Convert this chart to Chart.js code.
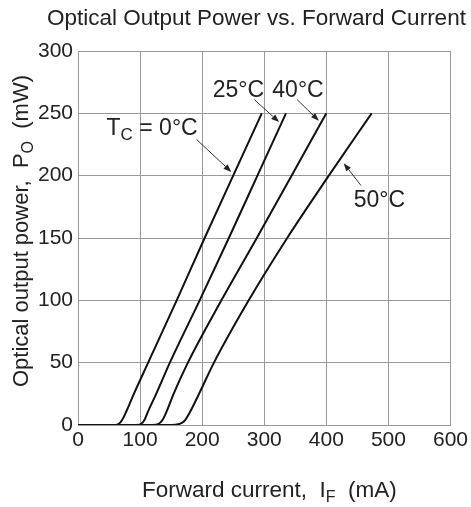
<!DOCTYPE html>
<html>
<head>
<meta charset="utf-8">
<script src="https://cdn.jsdelivr.net/npm/chart.js@4"></script>
<style>
html,body{margin:0;padding:0;background:#fff;}
#wrap{width:471px;height:507px;position:relative;}
</style>
</head>
<body>
<div id="wrap"><canvas id="c" width="471" height="507"></canvas></div>
<script>
// ---- Data ----
const xTicks = [0, 100, 200, 300, 400, 500, 600];   // Forward current (mA)
const yTicks = [0, 50, 100, 150, 200, 250, 300];    // Optical output power (mW)

const tc0I  = [0, 60, 66, 71, 77, 90, 113, 159, 204, 250, 296];
const tc0P  = [0, 0, 1, 4, 10, 25, 50, 100, 150, 200, 250];
const tc25I = [0, 95, 102, 107, 112, 126, 148, 196, 243, 289, 335];
const tc25P = [0, 0, 1, 4, 10, 25, 50, 100, 150, 200, 250];
const tc40I = [0, 120, 130, 136, 142, 154, 177, 231, 288, 344, 400];
const tc40P = [0, 0, 1, 4, 10, 25, 50, 100, 150, 200, 250];
const tc50I = [0, 150, 163, 171, 180, 195, 219, 275, 337, 404, 473];
const tc50P = [0, 0, 0.8, 3, 10, 25, 50, 100, 150, 200, 250];

// Annotation labels, anchored in data units
const labels = [
  {parts:[{t:'T'},{t:'C',sub:true},{t:' = 0\u00B0C'}], x:46,  y:233, arrow:[191,229,247,203]},
  {parts:[{t:'25\u00B0C'}], x:217, y:263, arrow:[284,261,324,243]},
  {parts:[{t:'40\u00B0C'}], x:313, y:263, arrow:[353,261,388,244]},
  {parts:[{t:'50\u00B0C'}], x:444, y:175, arrow:[456,192,428,210]}
];

const pts = (xs, ys) => xs.map((v, i) => ({x: v, y: ys[i]}));

const FONT = '"Liberation Sans", Arial, Helvetica, sans-serif';
const TXT = '#222';

function drawRich(ctx, parts, x, y, size){
  let cx = x;
  ctx.textBaseline = 'alphabetic';
  ctx.textAlign = 'left';
  for (const p of parts){
    const s = p.sub ? Math.round(size*0.72) : size;
    ctx.font = s + 'px ' + FONT;
    ctx.fillText(p.t, cx, p.sub ? y + size*0.22 : y);
    cx += ctx.measureText(p.t).width;
  }
}
function arrow(ctx, x1, y1, x2, y2){
  ctx.save();
  ctx.strokeStyle = '#333';
  ctx.fillStyle = '#222';
  ctx.lineWidth = 1;
  const a = Math.atan2(y2 - y1, x2 - x1);
  const L = 8, W = 3;
  const bx = x2 - L*Math.cos(a), by = y2 - L*Math.sin(a);
  ctx.beginPath(); ctx.moveTo(x1, y1); ctx.lineTo(bx, by); ctx.stroke();
  ctx.beginPath();
  ctx.moveTo(x2, y2);
  ctx.lineTo(bx + W*Math.sin(a), by - W*Math.cos(a));
  ctx.lineTo(bx - W*Math.sin(a), by + W*Math.cos(a));
  ctx.closePath(); ctx.fill();
  ctx.restore();
}

const textPlugin = {
  id: 'texts',
  afterDraw(chart){
    const {ctx, scales:{x, y}} = chart;
    ctx.save();
    ctx.fillStyle = TXT;
    // main title
    drawRich(ctx, [{t:'Optical Output Power vs. Forward Current'}], 47, 25, 22.5);
    // x axis title
    drawRich(ctx, [{t:'Forward current,  I'},{t:'F',sub:true},{t:'  (mA)'}], 142, 497, 22.5);
    // y axis title (rotated)
    ctx.save();
    ctx.translate(28, 387);
    ctx.rotate(-Math.PI/2);
    drawRich(ctx, [{t:'Optical output power,  P'},{t:'O',sub:true},{t:'  (mW)'}], 0, 0, 22);
    ctx.restore();
    // annotations
    for (const l of labels){
      ctx.fillStyle = TXT;
      drawRich(ctx, l.parts, x.getPixelForValue(l.x), y.getPixelForValue(l.y), 23);
      const [a1, b1, a2, b2] = l.arrow;
      arrow(ctx, x.getPixelForValue(a1), y.getPixelForValue(b1), x.getPixelForValue(a2), y.getPixelForValue(b2));
    }
    ctx.restore();
  }
};

const lineStyle = {
  borderColor: '#111', borderWidth: 2, pointRadius: 0, fill: false,
  cubicInterpolationMode: 'monotone'
};

new Chart(document.getElementById('c'), {
  type: 'line',
  data: {
    datasets: [
      Object.assign({label:'0°C',  data: pts(tc0I, tc0P)},  lineStyle),
      Object.assign({label:'25°C', data: pts(tc25I, tc25P)}, lineStyle),
      Object.assign({label:'40°C', data: pts(tc40I, tc40P)}, lineStyle),
      Object.assign({label:'50°C', data: pts(tc50I, tc50P)}, lineStyle)
    ]
  },
  options: {
    responsive: false,
    animation: false,
    devicePixelRatio: 1,
    layout: {padding: {top: 51, right: 19, left: 0, bottom: 0}},
    plugins: {legend: {display: false}, title: {display: false}, tooltip: {enabled: false}},
    scales: {
      x: {
        type: 'linear', min: 0, max: 600,
        afterFit(s){ s.height = 82; },
        afterBuildTicks(s){ s.ticks = xTicks.map(v => ({value: v})); },
        grid: {color: '#9a9a9a', lineWidth: 1, drawTicks: false},
        border: {color: '#9a9a9a', width: 1},
        ticks: {padding: 3, color: TXT, font: {family: FONT, size: 21}, maxRotation: 0}
      },
      y: {
        type: 'linear', min: 0, max: 300,
        afterFit(s){ s.width = 78; },
        afterBuildTicks(s){ s.ticks = yTicks.map(v => ({value: v})); },
        grid: {color: '#9a9a9a', lineWidth: 1, drawTicks: false},
        border: {color: '#9a9a9a', width: 1},
        ticks: {padding: 5, color: TXT, font: {family: FONT, size: 21}}
      }
    }
  },
  plugins: [textPlugin]
});
</script>
</body>
</html>
